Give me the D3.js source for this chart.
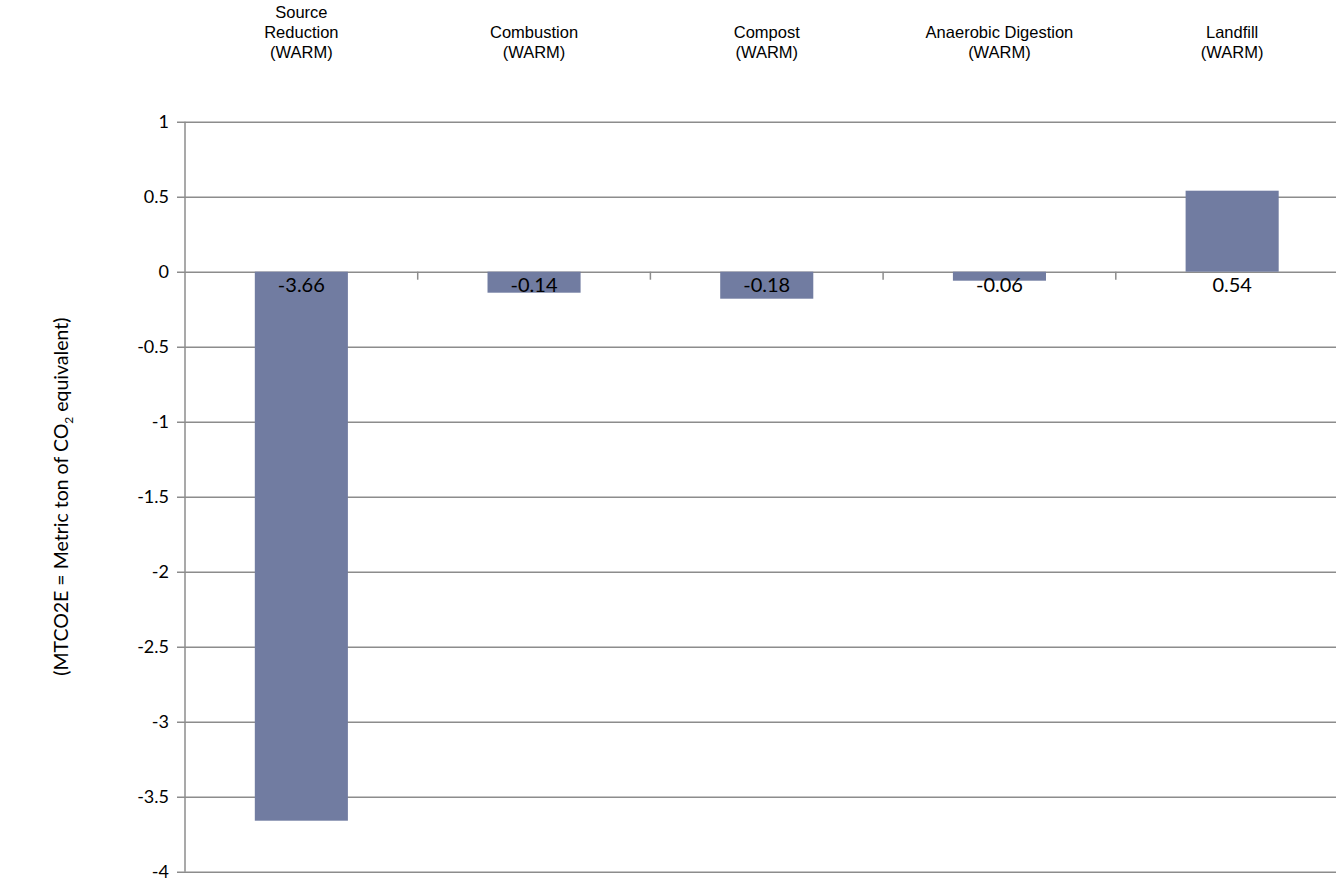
<!DOCTYPE html>
<html>
<head>
<meta charset="utf-8">
<script src="https://cdn.jsdelivr.net/npm/d3@7"></script>
<style>
  body { margin: 0; background: #fff; }
  svg { display: block; }
</style>
</head>
<body>
<script>
var categories = [
  ["Source", "Reduction", "(WARM)"],
  ["Combustion", "(WARM)"],
  ["Compost", "(WARM)"],
  ["Anaerobic Digestion", "(WARM)"],
  ["Landfill", "(WARM)"]
];
var values = [-3.66, -0.14, -0.18, -0.06, 0.54];
var valueLabels = ["-3.66", "-0.14", "-0.18", "-0.06", "0.54"];
var yTicks = [1, 0.5, 0, -0.5, -1, -1.5, -2, -2.5, -3, -3.5, -4];

var width = 1336, height = 881;
var marginLeft = 185, marginTop = 121.7, plotW = 1163.5, plotH = 750;

var svg = d3.select("body")
    .append("svg")
    .attr("width", width)
    .attr("height", height);

var x = d3.scaleBand()
    .domain(d3.range(categories.length))
    .range([marginLeft, marginLeft + plotW])
    .paddingInner(0.6)
    .paddingOuter(0.3);

var y = d3.scaleLinear()
    .domain([-4, 1])
    .range([marginTop + plotH, marginTop]);

var step = x.step();

// horizontal gridlines + y ticks
var yAxis = d3.axisLeft(y)
    .tickValues(yTicks)
    .tickSize(-(plotW + 8))
    .tickPadding(8)
    .tickFormat(function(d) { return String(d); });

var gy = svg.append("g")
    .attr("transform", "translate(" + (marginLeft - 8) + ",0)")
    .call(yAxis);
gy.select(".domain").remove();
gy.selectAll(".tick line")
    .attr("stroke", "#8c8c8c")
    .attr("stroke-width", 1.5);
gy.selectAll(".tick text")
    .attr("fill", "#000")
    .style("font-family", "Lato, 'Open Sans', sans-serif")
    .style("font-size", "18px");

// bars
svg.selectAll("rect.bar")
    .data(values)
    .enter().append("rect")
    .attr("class", "bar")
    .attr("x", function(d, i) { return x(i); })
    .attr("width", x.bandwidth())
    .attr("y", function(d) { return y(Math.max(0, d)); })
    .attr("height", function(d) { return Math.abs(y(d) - y(0)); })
    .attr("fill", "#717ca1");

// y axis line
svg.append("line")
    .attr("x1", marginLeft).attr("x2", marginLeft)
    .attr("y1", y(1)).attr("y2", y(-4))
    .attr("stroke", "#8c8c8c")
    .attr("stroke-width", 1.5);

// category ticks on the zero line
svg.selectAll("line.ctick")
    .data(d3.range(1, categories.length))
    .enter().append("line")
    .attr("class", "ctick")
    .attr("x1", function(i) { return marginLeft + i * step; })
    .attr("x2", function(i) { return marginLeft + i * step; })
    .attr("y1", y(0))
    .attr("y2", y(0) + 8)
    .attr("stroke", "#8c8c8c")
    .attr("stroke-width", 1.5);

// value labels
svg.selectAll("text.val")
    .data(valueLabels)
    .enter().append("text")
    .attr("class", "val")
    .attr("x", function(d, i) { return x(i) + x.bandwidth() / 2; })
    .attr("y", y(0) + 20)
    .attr("text-anchor", "middle")
    .style("font-family", "Lato, 'Open Sans', sans-serif")
    .style("font-size", "20px")
    .text(function(d) { return d; });

// category labels on top
var cat = svg.selectAll("text.cat")
    .data(categories)
    .enter().append("text")
    .attr("class", "cat")
    .attr("text-anchor", "middle")
    .style("font-family", "'Liberation Sans', Arial, sans-serif")
    .style("font-size", "16.5px");

cat.each(function(lines, i) {
  var t = d3.select(this);
  var cx = x(i) + x.bandwidth() / 2;
  lines.forEach(function(s, k) {
    t.append("tspan")
      .attr("x", cx)
      .attr("y", 58 - (lines.length - 1 - k) * 20)
      .text(s);
  });
});

// y axis title
var title = svg.append("text")
    .attr("transform", "translate(68," + (marginTop + plotH / 2) + ") rotate(-90)")
    .attr("text-anchor", "middle")
    .style("font-family", "Lato, 'Open Sans', sans-serif")
    .style("font-size", "19.5px");
title.append("tspan").text("(MTCO2E = Metric ton of CO");
title.append("tspan").attr("font-size", "12px").attr("dy", 5).text("2");
title.append("tspan").attr("dy", -5).text(" equivalent)");
</script>
</body>
</html>
